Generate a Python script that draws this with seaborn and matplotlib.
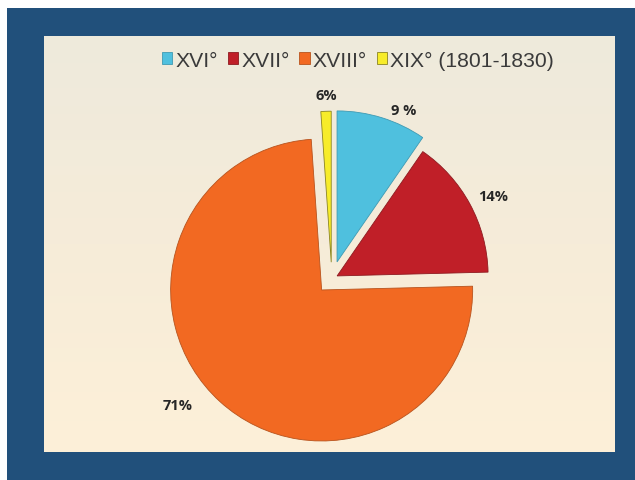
import numpy as np
import matplotlib.pyplot as plt
import seaborn as sns
from matplotlib.patches import Rectangle
from matplotlib.colors import LinearSegmentedColormap

# data (slice sizes) and the labels as printed on it
centuries = ["XVI°", "XVII°", "XVIII°", "XIX° (1801-1830)"]
shares = [9.6, 15.0, 74.3, 1.1]
pct_labels = ["9 %", "14%", "71%", "6%"]

# styling / layout
colors = ["#4FC0DE", "#C01F28", "#F26922", "#F7EC2A"]
edges = ["#3F9AB3", "#8E1A20", "#B8531D", "#8A8424"]
explode = [0.117, 0.04, 0.10, 0.11]
label_nudge = [-5.9, -1.2, -8.5, -0.4]   # degrees from wedge middle
label_r = [1.216, 1.20, 1.318, 1.217]

sns.set_theme(style="white")
plt.rcParams['font.family'] = ['Liberation Sans', 'DejaVu Sans']

W, H = 635, 481
fig = plt.figure(figsize=(W / 100, H / 100), dpi=100)
fig.patch.set_facecolor("white")

# dark blue frame
fig.patches.append(Rectangle((7 / W, 0), 1 - 7 / W, (H - 9) / H, transform=fig.transFigure,
                             facecolor="#21507B", edgecolor="none", zorder=-10))

# cream panel with soft vertical gradient
bg = fig.add_axes([44 / W, (H - 453) / H, (615 - 44) / W, (453 - 37) / H])
grad = np.linspace(0, 1, 256).reshape(-1, 1)
cmap = LinearSegmentedColormap.from_list("panel", ["#EEEADC", "#F6ECD9", "#FDF0D8"])
bg.imshow(grad, aspect="auto", cmap=cmap)
bg.axis("off")

# pie
R = 151
cx, cy = 331.8, H - 279.8
side = 2.4 * R
ax = fig.add_axes([(cx - side / 2) / W, (cy - side / 2) / H, side / W, side / H])
wedges, _ = ax.pie(shares, colors=colors, explode=explode, startangle=90,
                   counterclock=False, wedgeprops=dict(linewidth=0.6))
for w, ec in zip(wedges, edges):
    w.set_edgecolor(ec)
ax.set_xlim(-1.2, 1.2)
ax.set_ylim(-1.2, 1.2)
ax.set_aspect("equal")
ax.axis("off")

for w, lab, nd, r in zip(wedges, pct_labels, label_nudge, label_r):
    th = np.deg2rad((w.theta1 + w.theta2) / 2 + nd)
    ax.text(r * np.cos(th), r * np.sin(th), lab, ha="center", va="center",
            fontsize=10.5, fontweight="bold", color="#262626",
            family=["Open Sans", "DejaVu Sans"], clip_on=False)

fig.legend(wedges, centuries, loc="center", bbox_to_anchor=(358 / W, 1 - 61 / H),
           ncol=4, frameon=False, fontsize=15.2, handlelength=0.5, handleheight=0.5,
           handletextpad=0.15, columnspacing=0.45, borderpad=0, labelcolor="#3A3A3A")

fig.savefig("out.png", dpi=100)
